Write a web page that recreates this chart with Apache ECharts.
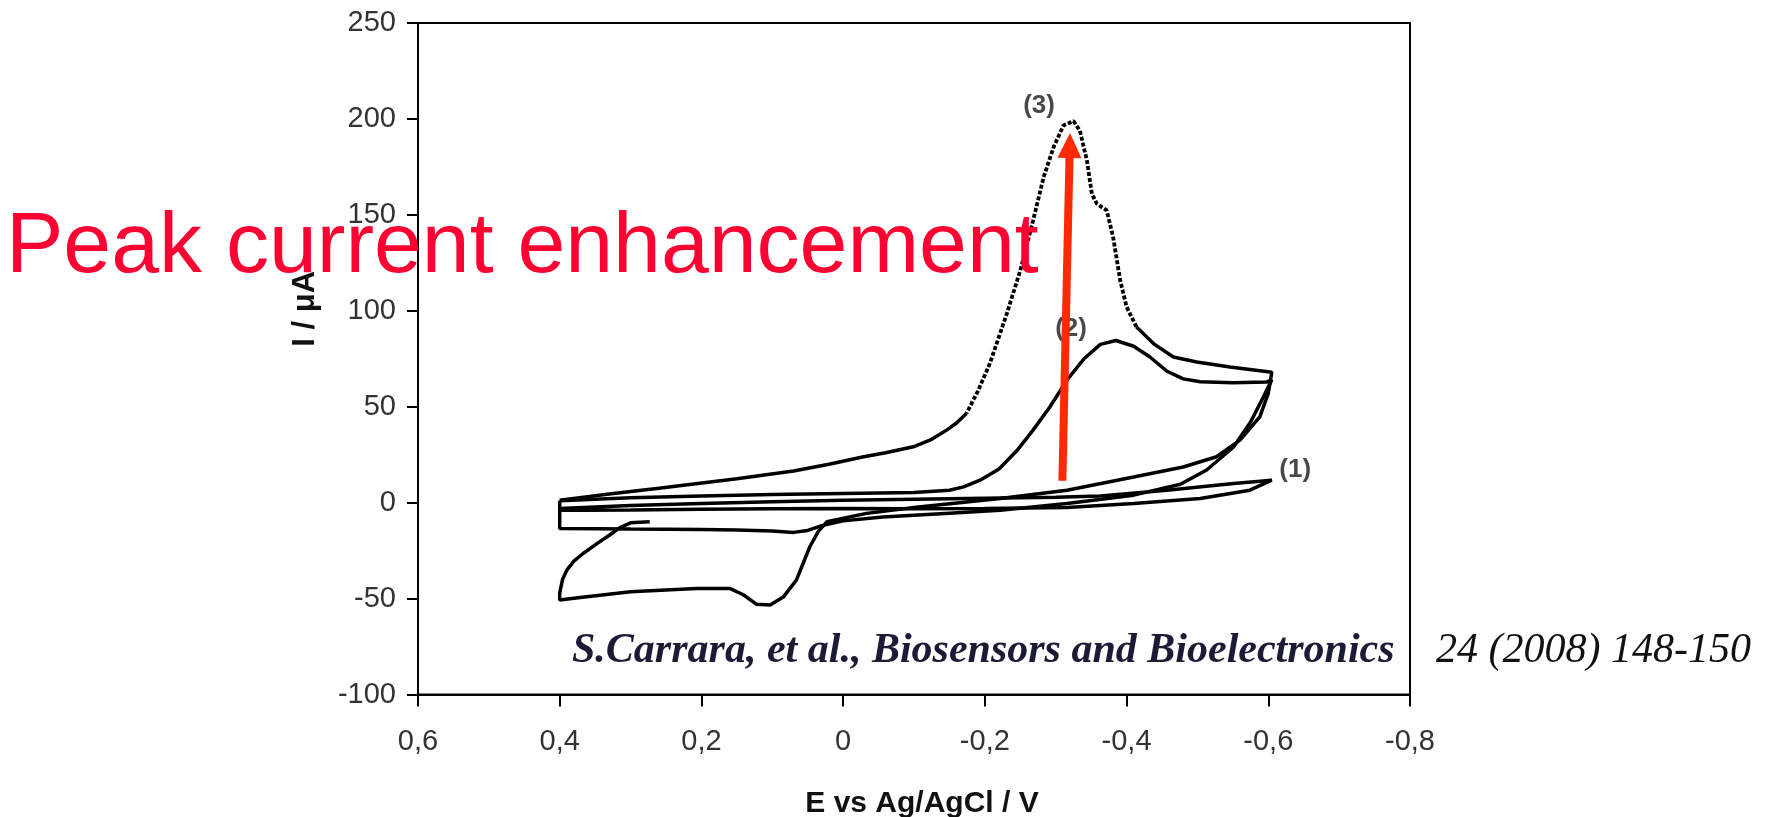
<!DOCTYPE html>
<html>
<head>
<meta charset="utf-8">
<script src="https://cdn.jsdelivr.net/npm/echarts@6/dist/echarts.min.js"></script>
<style>
html,body{margin:0;padding:0;background:#fff;}
#chart{width:1775px;height:817px;}
</style>
</head>
<body>
<div id="chart"></div>
<script>
// ---- data: [E (V), I (µA)] ----
const curve1 = [
  [0.40,-3],[0.30,-1.5],[0.20,-0.5],[0.10,0.5],[0.00,1.2],[-0.10,1.8],[-0.20,2.3],[-0.30,2.8],
  [-0.363,3.5],[-0.457,6.5],[-0.551,10],[-0.605,11.7],
  [-0.574,6.5],[-0.504,2.2],[-0.41,-0.4],[-0.316,-2.5],[-0.20,-3],[-0.10,-3.2],[0.00,-3.0],
  [0.10,-3.2],[0.20,-3.5],[0.30,-3.8],[0.367,-3.9],[0.40,-4]
];
const curve2 = [
  [0.40,1],[0.30,2.5],[0.20,3.5],[0.10,4.2],[0.00,4.8],[-0.10,5.3],[-0.15,6.5],[-0.17,8.2],
  [-0.195,12],[-0.22,17.5],[-0.245,27],[-0.268,37.8],[-0.292,50],[-0.316,64],[-0.34,75],
  [-0.363,82.5],[-0.385,84.5],[-0.41,81.5],[-0.433,75.9],[-0.457,68.5],[-0.48,64.5],
  [-0.504,63],[-0.55,62.5],[-0.598,62.9],[-0.605,64],
  [-0.593,55],[-0.575,42],[-0.551,29],[-0.513,17],[-0.476,9.6],[-0.41,3.9],[-0.316,-0.5],
  [-0.2215,-4],[-0.15,-5.5],[-0.056,-7.5],[0.00,-9.5],[0.03,-12],[0.05,-14.5],[0.07,-15.5],
  [0.10,-14.8],[0.15,-14.2],[0.20,-14],[0.30,-13.8],[0.40,-13.5],[0.40,1]
];
const curve3Return = [
  [0.273,-10],[0.30,-10.5],[0.315,-13],[0.33,-17],[0.348,-21.5],[0.367,-26.5],[0.38,-30.5],
  [0.39,-35.2],[0.396,-40],[0.40,-47],[0.40,-50.8],[0.371,-49.5],[0.30,-46.5],[0.25,-45.5],
  [0.207,-44.7],[0.16,-44.7],[0.141,-48],[0.122,-53],[0.103,-53.4],[0.084,-49],[0.066,-40.4],
  [0.047,-23],[0.035,-15],[0.023,-10],[-0.033,-5.6],[-0.10,-2.5],[-0.2215,2.2],[-0.316,6.5],
  [-0.41,13.4],[-0.48,18.6],[-0.527,23.9],[-0.56,32.6],[-0.588,44.7],[-0.60,57],[-0.605,68],
  [-0.546,70.7],[-0.499,73.3],[-0.466,75.9],[-0.438,82.9],[-0.414,91.6]
];
const curve3Peak = [
  [-0.414,91.6],[-0.40,102],[-0.391,115.9],[-0.381,138.4],[-0.372,152.3],[-0.358,155.8],
  [-0.351,161],[-0.344,178.4],[-0.334,194],[-0.325,198.9],[-0.311,196.6],[-0.297,185.3],
  [-0.283,169.7],[-0.268,147],[-0.25,121],[-0.231,98.5],[-0.207,72.5],[-0.19,58],[-0.174,46.5]
];
const curve3Forward = [
  [-0.174,46.5],[-0.16,41.5],[-0.146,37.8],[-0.125,33],[-0.099,29.1],[-0.06,26],[-0.029,23.9],
  [0.02,20],[0.07,16.5],[0.15,12.5],[0.26,7.5],[0.33,4.5],[0.40,1.3]
];
const curveLabelNames = ['(1)','(2)','(3)'];
const curveLabelPos = [[-0.638,16.9],[-0.3217,90.4],[-0.2765,207]];
const arrowStart = [-0.3094,11.4];
const arrowEnd = [-0.3198,186.1];
const xTicks = {min:-0.8, max:0.6, interval:0.2};
const yTicks = {min:-100, max:250, interval:50};
const xTitle = 'E vs Ag/AgCl / V';
const yTitle = 'I / μA';
const annotation = 'Peak current enhancement';
const citationA = 'S.Carrara, et al., Biosensors and Bioelectronics';
const citationB = '24 (2008) 148-150';

const chart = echarts.init(document.getElementById('chart'), null, {renderer:'canvas'});
const lineBase = {type:'line', symbol:'none', smooth:false, silent:true, z:3};
const labelFont = 'Liberation Sans';

const option = {
  animation:false,
  backgroundColor:'#ffffff',
  grid:{left:418, right:365, top:23, bottom:122.5, containLabel:false, outerBoundsMode:'none',
        show:true, borderColor:'#000', borderWidth:2, backgroundColor:'transparent'},
  xAxis:{
    type:'value', inverse:true, min:xTicks.min, max:xTicks.max, interval:xTicks.interval,
    axisLine:{show:true, onZero:false, lineStyle:{color:'#000', width:2}},
    axisTick:{show:true, inside:false, length:12, lineStyle:{color:'#000', width:2}},
    splitLine:{show:false},
    axisLabel:{margin:33, fontSize:29, color:'#333', fontFamily:labelFont,
      formatter:v => String(Math.round(v*10)/10).replace('.', ',')},
    name:xTitle, nameLocation:'middle', nameGap:94,
    nameTextStyle:{fontSize:30, fontWeight:'bold', color:'#111', fontFamily:labelFont, padding:[0,0,0,16]}
  },
  yAxis:{
    type:'value', min:yTicks.min, max:yTicks.max, interval:yTicks.interval,
    axisLine:{show:true, onZero:false, lineStyle:{color:'#000', width:2}},
    axisTick:{show:true, inside:false, length:11, lineStyle:{color:'#000', width:2}},
    splitLine:{show:false},
    axisLabel:{margin:22, fontSize:29, color:'#333', fontFamily:labelFont},
    name:yTitle, nameLocation:'middle', nameGap:97, nameRotate:90,
    nameTextStyle:{fontSize:31, fontWeight:'bold', color:'#111', fontFamily:labelFont, padding:[0,0,0,100]}
  },
  series:[
    Object.assign({}, lineBase, {name:'(1)', data:curve1, lineStyle:{color:'#000', width:3.5}}),
    Object.assign({}, lineBase, {name:'(2)', data:curve2, lineStyle:{color:'#000', width:3.5}}),
    Object.assign({}, lineBase, {name:'(3) return', data:curve3Return, lineStyle:{color:'#000', width:3.5}}),
    Object.assign({}, lineBase, {name:'(3) peak', data:curve3Peak, lineStyle:{color:'#000', width:3.8, type:[4,2]}}),
    Object.assign({}, lineBase, {name:'(3) forward', data:curve3Forward, lineStyle:{color:'#000', width:3.5}}),
    {
      type:'scatter', name:'labels', silent:true, z:5,
      symbol:'circle', symbolSize:1, itemStyle:{color:'rgba(0,0,0,0)'},
      data:curveLabelPos.map((p,i)=>({value:p, name:curveLabelNames[i]})),
      label:{show:true, position:'inside', formatter:p=>p.name, fontSize:26, fontWeight:'bold', color:'#1a1a1a', fontFamily:labelFont},
      markLine:{
        silent:true, z:6, animation:false,
        symbol:['none','triangle'], symbolSize:[24,25],
        label:{show:false},
        lineStyle:{color:'#ff2a00', width:8, type:'solid'},
        data:[[{coord:arrowStart},{coord:arrowEnd}]]
      }
    }
  ],
  graphic:[
    {type:'text', z:100, x:6, y:248, silent:true,
     style:{text:annotation, fontSize:86, fontFamily:labelFont, fill:'#ff0033', verticalAlign:'middle',
            shadowColor:'rgba(0,0,0,0.35)', shadowBlur:4, shadowOffsetX:3, shadowOffsetY:3}},
    {type:'text', z:100, x:568, y:651, silent:true,
     style:{text:citationA, font:'italic bold 42px "Liberation Serif"', fill:'#1b1b35', verticalAlign:'middle',
            backgroundColor:'#ffffff', padding:[3,6,3,4]}},
    {type:'text', z:100, x:1436, y:651, silent:true,
     style:{text:citationB, font:'italic 42px "Liberation Serif"', fill:'#111', verticalAlign:'middle'}}
  ]
};
chart.setOption(option);
</script>
</body>
</html>
